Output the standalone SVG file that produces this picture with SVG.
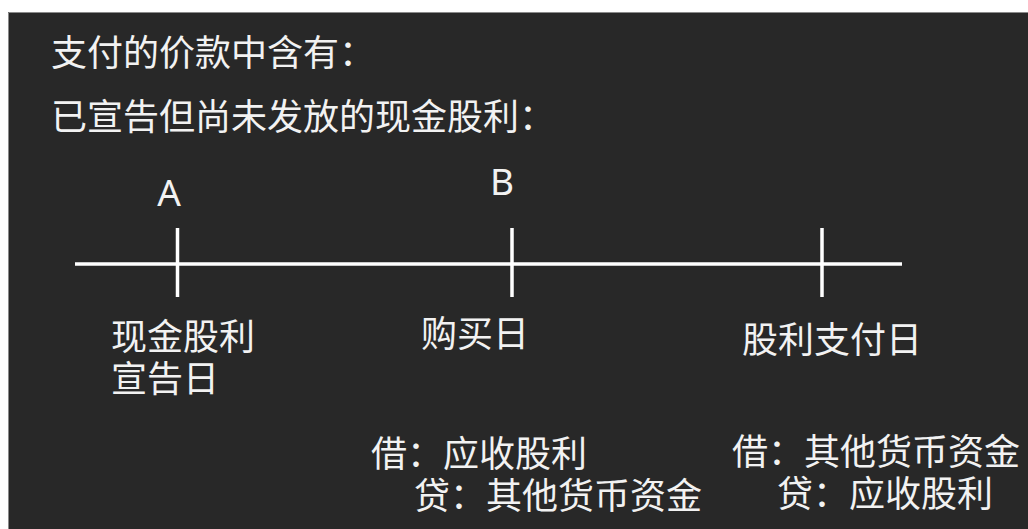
<svg xmlns="http://www.w3.org/2000/svg" width="1028" height="529" viewBox="0 0 1028 529">
  <style>
    .cjk { font-family: "Noto Sans CJK SC", "Microsoft YaHei", sans-serif; font-size: 36px; fill: #f2f2f2; }
    .lat { font-family: "Noto Sans", "Open Sans", sans-serif; font-size: 37px; fill: #f2f2f2; text-anchor: middle; }
    .axis { stroke: #ffffff; stroke-width: 3.5; fill: none; }
  </style>
  <rect x="0" y="0" width="1028" height="529" fill="#ffffff"/>
  <rect x="8" y="12" width="1020" height="517" fill="#282828"/>
  <path d="M8.5 529 V12.5 H1028" fill="none" stroke="#8a8a8a" stroke-width="1"/>

  <g id="title">
    <text class="cjk" x="51" y="66">支付的价款中含有：</text>
    <text class="cjk" x="51" y="130">已宣告但尚未发放的现金股利：</text>
  </g>

  <g id="connectors">
    <line class="axis" x1="75" y1="264" x2="902" y2="264"/>
    <line class="axis" x1="177.5" y1="228" x2="177.5" y2="297"/>
    <line class="axis" x1="512" y1="228" x2="512" y2="297"/>
    <line class="axis" x1="822" y1="228" x2="822" y2="297"/>
  </g>

  <g id="node-a">
    <text class="lat" x="169" y="206">A</text>
    <text class="cjk" x="111" y="350">现金股利</text>
    <text class="cjk" x="111" y="392">宣告日</text>
  </g>

  <g id="node-b">
    <text class="lat" x="502" y="195">B</text>
    <text class="cjk" x="421" y="347">购买日</text>
    <text class="cjk" x="371" y="467">借：应收股利</text>
    <text class="cjk" x="414" y="509">贷：其他货币资金</text>
  </g>

  <g id="node-c">
    <text class="cjk" x="742" y="353">股利支付日</text>
    <text class="cjk" x="732" y="465">借：其他货币资金</text>
    <text class="cjk" x="777" y="507">贷：应收股利</text>
  </g>
</svg>
